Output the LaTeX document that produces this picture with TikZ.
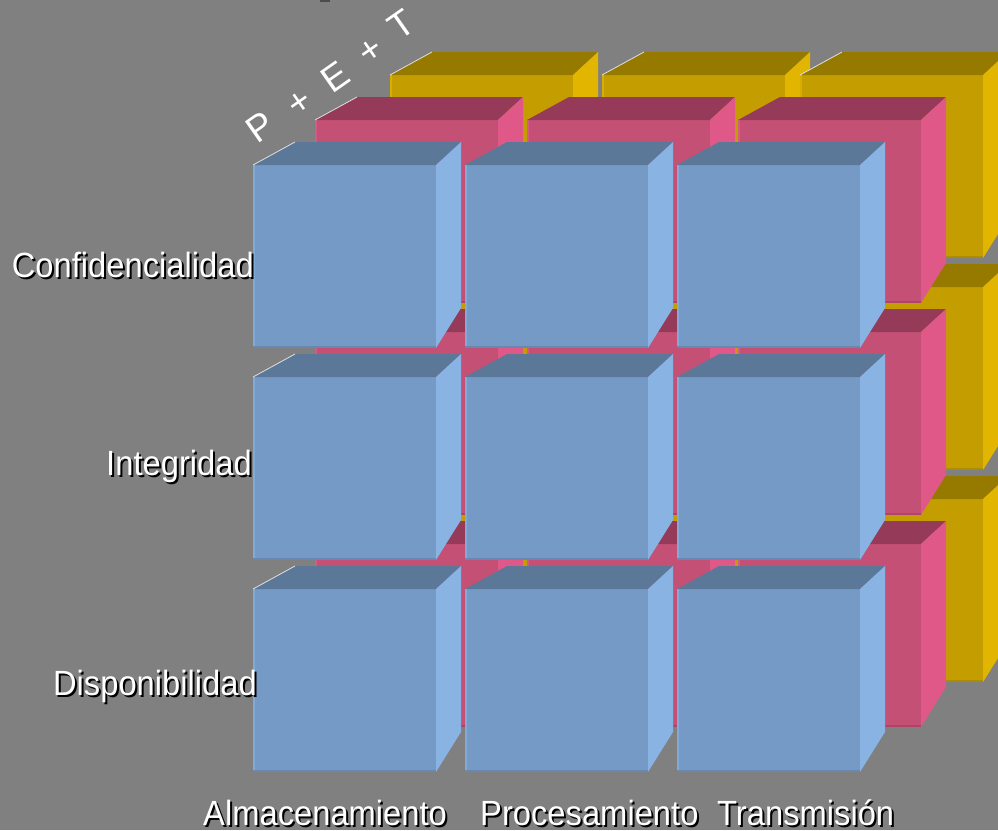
\documentclass[tikz,border=0pt]{standalone}
\usepackage{fontspec}
\newfontfamily\labfont{Liberation Sans}[FakeStretch=0.935]
\newfontfamily\petfont{Liberation Sans}
\definecolor{bg}{HTML}{808080}
\definecolor{bfront}{HTML}{749AC5}
\definecolor{btop}{HTML}{5B7899}
\definecolor{bside}{HTML}{88B3E2}
\definecolor{bedge}{HTML}{82AAD8}
\definecolor{bdark}{HTML}{6888B2}
\definecolor{pfront}{HTML}{C45076}
\definecolor{ptop}{HTML}{963A5A}
\definecolor{pside}{HTML}{E05888}
\definecolor{pedge}{HTML}{D65A86}
\definecolor{pdark}{HTML}{AE4468}
\definecolor{yfront}{HTML}{C49E00}
\definecolor{ytop}{HTML}{967A00}
\definecolor{yside}{HTML}{E2B600}
\definecolor{yedge}{HTML}{D8AE00}
\definecolor{ydark}{HTML}{AE8C00}
\newcommand\drawcube[3]{%
  \begin{scope}[shift={(#1,#2)}]
    \fill[#3front] (0,0) rectangle (183,183);
    \fill[#3top] (0,0) -- (42,-23) -- (208,-23) -- (183,0) -- cycle;
    \fill[#3side] (183,0) -- (208,-23) -- (208,143) -- (183,183) -- cycle;
    \fill[#3edge] (0,0) rectangle (2,183);
    \fill[#3dark] (0,181) rectangle (183,183);
  \end{scope}}
\newcommand\drawhl[2]{%
  \draw[white!75!bg, line width=0.8pt] (#1,#2) -- ++(42,-23);}
\tikzset{
  lab/.style={font=\labfont\fontsize{35}{40}\selectfont, text=white, inner sep=0pt},
  labsh/.style={lab, text=black},
  pet/.style={font=\petfont\fontsize{37}{42}\selectfont, text=white, inner sep=0pt, rotate=35}
}
\begin{document}
\begin{tikzpicture}[x=1pt,y=-1pt]
\useasboundingbox (0,0) rectangle (998,830);
\fill[bg] (0,0) rectangle (998,830);
\fill[black!70] (320,0) rectangle (330,2);
% yellow layer
\foreach \yy in {75,287,499}{
  \drawcube{390}{\yy}{y}
  \drawcube{602}{\yy}{y}
  \drawcube{800}{\yy}{y}
}
\drawhl{390}{75}\drawhl{602}{75}\drawhl{800}{75}
% pink layer
\foreach \yy in {120,332,544}{
  \drawcube{315}{\yy}{p}
  \drawcube{527}{\yy}{p}
  \drawcube{738}{\yy}{p}
}
\drawhl{315}{120}
% blue layer
\foreach \yy in {165,377,589}{
  \drawcube{253}{\yy}{b}
  \drawcube{465}{\yy}{b}
  \drawcube{677}{\yy}{b}
}
\drawhl{253}{165}\drawhl{253}{377}\drawhl{253}{589}
% P + E + T
\node[pet] (pet1) at (260.5,126.5) {P};
\node[pet] (pet2) at (300,104) {+};
\node[pet] (pet3) at (335,77) {E};
\node[pet] (pet4) at (371.5,51.5) {+};
\node[pet] (pet5) at (401.5,24.5) {T};
% row labels
\node[labsh, anchor=base east] (conf-s) at (256,279) {Confidencialidad};
\node[lab, anchor=base east] (conf) at (254,277) {Confidencialidad};
\node[labsh, anchor=base east] (inte-s) at (254,477) {Integridad};
\node[lab, anchor=base east] (inte) at (252,475) {Integridad};
\node[labsh, anchor=base east] (disp-s) at (259,697) {Disponibilidad};
\node[lab, anchor=base east] (disp) at (257,695) {Disponibilidad};
% column labels
\node[labsh, anchor=base west] (alm-s) at (205,827) {Almacenamiento};
\node[lab, anchor=base west] (alm) at (203,825) {Almacenamiento};
\node[labsh, anchor=base west] (pro-s) at (482,827) {Procesamiento};
\node[lab, anchor=base west] (pro) at (480,825) {Procesamiento};
\node[labsh, anchor=base west] (tra-s) at (719,827) {Transmisión};
\node[lab, anchor=base west] (tra) at (717,825) {Transmisión};
\end{tikzpicture}
\end{document}
